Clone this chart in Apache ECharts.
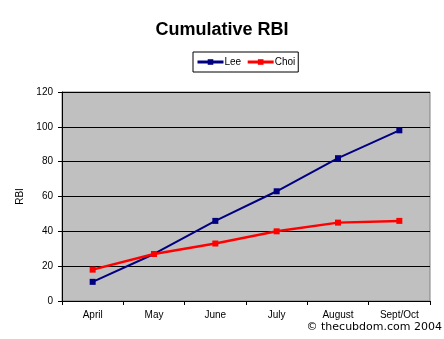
<!DOCTYPE html>
<html><head><meta charset="utf-8">
<script src="https://cdn.jsdelivr.net/npm/echarts@6/dist/echarts.min.js"></script>
<style>html,body{margin:0;padding:0;background:#fff}#c{width:444px;height:339px}</style>
</head><body><div id="c"></div>
<script>
const categories = ['April','May','June','July','August','Sept/Oct'];
const leeRBI = [11, 27, 46, 63, 82, 98];
const choiRBI = [18, 27, 33, 40, 45, 46];
const yTicks = {min: 0, max: 120, interval: 20};

const chart = echarts.init(document.getElementById('c'), null, {renderer: 'canvas'});
const F = 'Arial, "Liberation Sans", sans-serif';
chart.setOption({
  animation: false,
  backgroundColor: '#fff',
  title: {text: 'Cumulative RBI', left: 'center', top: 16,
    textStyle: {fontFamily: F, fontSize: 18, fontWeight: 'bold', color: '#000'}},
  legend: {
    top: 52, left: 193, padding: [5, 3, 5, 3], itemGap: 5,
    borderColor: '#000', borderWidth: 1, borderRadius: 0,
    itemWidth: 26, itemHeight: 7,
    lineStyle: {width: 3},
    textStyle: {fontFamily: F, fontSize: 10, color: '#000', padding: [0, 0, 0, -4]},
    data: ['Lee', 'Choi']
  },
  grid: {left: 62, right: 14, top: 92, bottom: 38, show: true,
    backgroundColor: '#c0c0c0', borderColor: '#808080', borderWidth: 1},
  xAxis: {type: 'category', data: categories, boundaryGap: true,
    axisLine: {lineStyle: {color: '#000', width: 1}},
    axisTick: {show: true, length: 4, lineStyle: {color: '#000'}},
    axisLabel: {fontFamily: F, fontSize: 10, color: '#000', margin: 9}},
  yAxis: {type: 'value', min: yTicks.min, max: yTicks.max, interval: yTicks.interval,
    name: 'RBI', nameLocation: 'middle', nameGap: 35, nameRotate: 90,
    nameTextStyle: {fontFamily: F, fontSize: 10, color: '#000'},
    axisLine: {show: true, lineStyle: {color: '#000'}},
    axisTick: {show: true, length: 4, lineStyle: {color: '#000'}},
    axisLabel: {fontFamily: F, fontSize: 10, color: '#000', margin: 9},
    splitLine: {show: true, lineStyle: {color: '#000', width: 1}}},
  series: [
    {name: 'Lee', type: 'line', data: leeRBI, color: '#000080',
     symbol: 'rect', symbolSize: 6, showAllSymbol: true,
     lineStyle: {width: 2, color: '#000080'}, itemStyle: {color: '#000080'}},
    {name: 'Choi', type: 'line', data: choiRBI, color: '#ff0000',
     symbol: 'rect', symbolSize: 6, showAllSymbol: true,
     lineStyle: {width: 2.5, color: '#ff0000'}, itemStyle: {color: '#ff0000'}}
  ],
  graphic: [{type: 'text', right: 2, top: 322,
    style: {text: '© thecubdom.com 2004', font: '11px "DejaVu Sans", Verdana, sans-serif', fill: '#000'}}]
});
</script></body></html>
